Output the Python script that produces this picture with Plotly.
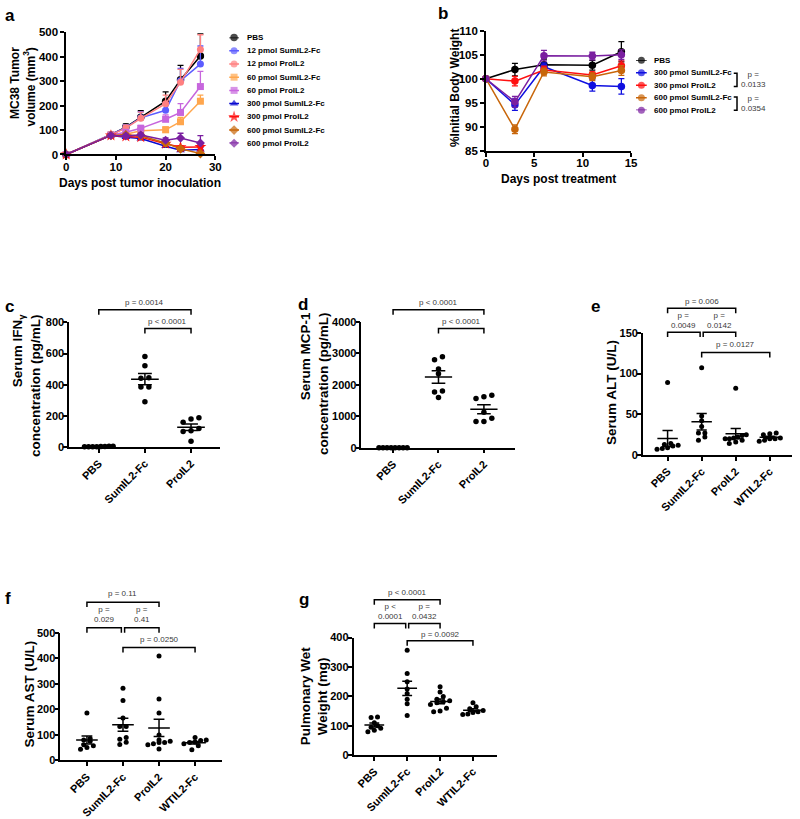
import numpy as np
import plotly.graph_objects as go

W, H = 800, 819
FONT = "Liberation Sans, Arial, sans-serif"


def fx(px):
    return px / W


def fy(py):
    return 1 - py / H


# ---------------- panel a: tumour growth ----------------
a_days = [0, 9, 12, 15, 20, 23, 27]
a_labels = ["PBS", "12 pmol SumIL2-Fc", "12 pmol ProIL2", "60 pmol SumIL2-Fc",
            "60 pmol ProIL2", "300 pmol SumIL2-Fc", "300 pmol ProIL2",
            "600 pmol SumIL2-Fc", "600 pmol ProIL2"]
a_pbs = [0, 81, 112, 152, 218, 306, 403]
a_pbs_sem = [0, 8, 13, 27, 38, 59, 91]
a_sum12 = [0, 82, 110, 150, 181, 302, 370]
a_sum12_sem = [0, 6, 12, 25, 30, 50, 74]
a_pro12 = [0, 80, 108, 148, 208, 296, 430]
a_pro12_sem = [0, 6, 12, 25, 35, 52, 60]
a_sum60 = [0, 80, 83, 97, 101, 134, 218]
a_sum60_sem = [0, 5, 8, 10, 12, 18, 25]
a_pro60 = [0, 80, 91, 107, 144, 172, 278]
a_pro60_sem = [0, 5, 8, 12, 18, 36, 62]
a_sum300 = [0, 78, 71, 65, 34, 17, 20]
a_sum300_sem = [0, 5, 6, 8, 8, 6, 8]
a_pro300 = [0, 78, 74, 71, 44, 30, 31]
a_pro300_sem = [0, 5, 8, 8, 8, 6, 10]
a_sum600 = [0, 78, 80, 77, 47, 23, 4]
a_sum600_sem = [0, 5, 6, 8, 10, 8, 3]
a_pro600 = [0, 78, 76, 80, 58, 67, 47]
a_pro600_sem = [0, 5, 6, 8, 10, 20, 30]

# ---------------- panel b: body weight ----------------
b_days = [0, 3, 6, 11, 14]
b_labels = ["PBS", "300 pmol SumIL2-Fc", "300 pmol ProIL2",
            "600 pmol SumIL2-Fc", "600 pmol ProIL2"]
b_pbs = [100, 101.9, 102.9, 102.8, 105.6]
b_pbs_sem = [0, 1.3, 1.2, 1.0, 2.1]
b_sum300 = [100, 94.6, 102.5, 98.6, 98.4]
b_sum300_sem = [0, 1.2, 0.8, 1.2, 1.6]
b_pro300 = [100, 99.5, 101.8, 100.8, 102.7]
b_pro300_sem = [0, 1.0, 0.8, 0.6, 1.0]
b_sum600 = [100, 89.5, 101.4, 100.4, 101.7]
b_sum600_sem = [0, 0.9, 0.8, 0.8, 1.0]
b_pro600 = [100, 95.2, 104.8, 104.7, 105.0]
b_pro600_sem = [0, 1.1, 1.1, 0.8, 1.0]
b_pvals = ["p =<br>0.0133", "p =<br>0.0354"]

# ---------------- panels c-g: dot plots ----------------
c_groups = ["PBS", "SumIL2-Fc", "ProIL2"]
c_pbs = [2, 3, 4, 5, 6, 3, 2, 4]
c_sum = [581, 522, 444, 442, 385, 385, 291]
c_pro = [189, 181, 160, 120, 105, 100, 38]
c_comparisons = [(0, 2, "p = 0.0014"), (1, 2, "p < 0.0001")]

d_groups = ["PBS", "SumIL2-Fc", "ProIL2"]
d_pbs = [0, 0, 0, 0, 0, 0, 0, 0]
d_sum = [2894, 2800, 2508, 2351, 1806, 1774, 1599]
d_pro = [1671, 1618, 1567, 1129, 940, 834, 834]
d_comparisons = [(0, 2, "p < 0.0001"), (1, 2, "p < 0.0001")]

e_groups = ["PBS", "SumIL2-Fc", "ProIL2", "WTIL2-Fc"]
e_pbs = [89, 14, 13, 12, 11, 9, 8, 7]
e_sum = [107, 48, 42, 35, 27, 27, 22, 18]
e_pro = [82, 25, 24, 22, 21, 20, 20, 18, 16, 14]
e_wt = [27, 26, 25, 21, 20, 20, 18, 17]
e_comparisons = [(0, 2, "p = 0.006"), (0, 1, "p =<br>0.0049"),
                 (1, 2, "p =<br>0.0142"), (1, 3, "p = 0.0127")]

f_groups = ["PBS", "SumIL2-Fc", "ProIL2", "WTIL2-Fc"]
f_pbs = [186, 86, 80, 75, 62, 58, 51, 44]
f_sum = [283, 235, 166, 133, 133, 90, 83, 71, 63]
f_pro = [409, 241, 186, 100, 80, 75, 70, 70, 65, 62, 45]
f_wt = [90, 80, 78, 72, 70, 65, 58, 42]
f_comparisons = [(0, 2, "p = 0.11"), (0, 1, "p =<br>0.029"),
                 (1, 2, "p =<br>0.41"), (1, 3, "p = 0.0250")]

g_groups = ["PBS", "SumIL2-Fc", "ProIL2", "WTIL2-Fc"]
g_pbs = [130, 128, 110, 100, 95, 92, 85, 80]
g_sum = [357, 278, 250, 225, 210, 190, 175, 135]
g_pro = [233, 215, 200, 190, 185, 182, 178, 172, 160, 150, 148]
g_wt = [178, 165, 158, 152, 148, 145, 140, 138]
g_comparisons = [(0, 2, "p < 0.0001"), (0, 1, "p <<br>0.0001"),
                 (1, 2, "p =<br>0.0432"), (1, 3, "p = 0.0092")]

# ---------------- styles ----------------
TICKFONT = dict(family=FONT, size=11.5, color="black", weight="bold")
TICKFONT_S = dict(family=FONT, size=11, color="black", weight="bold")
PFONT = dict(family=FONT, size=8, color="#3a3a3a")
LEGFONT = dict(family=FONT, size=8, color="black", weight="bold")

a_values = [a_pbs, a_sum12, a_pro12, a_sum60, a_pro60, a_sum300, a_pro300, a_sum600, a_pro600]
a_sems = [a_pbs_sem, a_sum12_sem, a_pro12_sem, a_sum60_sem, a_pro60_sem,
          a_sum300_sem, a_pro300_sem, a_sum600_sem, a_pro600_sem]
a_colors = ["#000000", "#5c5cff", "#ff8080", "#ffa64d", "#c766dd",
            "#0a0ad0", "#ff1010", "#c8660a", "#7a1fa0"]
a_symbols = ["circle", "circle", "circle", "square", "square",
             "triangle-up", "star", "diamond", "diamond"]
a_msize = [7.5, 7, 7, 7, 7, 7.5, 9, 7.5, 7]

b_values = [b_pbs, b_sum300, b_pro300, b_sum600, b_pro600]
b_sems = [b_pbs_sem, b_sum300_sem, b_pro300_sem, b_sum600_sem, b_pro600_sem]
b_colors = ["#000000", "#1010e0", "#ff1010", "#c8660a", "#7a1fa0"]

fig = go.Figure()
layout = dict(width=W, height=H, margin=dict(l=0, r=0, t=0, b=0),
              paper_bgcolor="white", plot_bgcolor="white", showlegend=False,
              font=dict(family=FONT, color="black"))
shapes = []
annotations = []


def axis(dom, rng, **kw):
    d = dict(domain=dom, range=rng, showline=True, linecolor="black", linewidth=1.5,
             ticks="outside", ticklen=4, tickwidth=1.5, tickcolor="black",
             showgrid=False, zeroline=False, tickfont=TICKFONT, fixedrange=True)
    d.update(kw)
    return d


def xdom(x0, x1):
    return [fx(x0), fx(x1)]


def ydom(ytop, ybot):
    return [fy(ybot), fy(ytop)]


def label(text, x, y, size=12, angle=0, align="center", xanchor="center", color="black", bold=True):
    annotations.append(dict(xref="paper", yref="paper", x=fx(x), y=fy(y), text=text,
                            showarrow=False, textangle=angle, align=align,
                            xanchor=xanchor, yanchor="middle",
                            font=dict(family=FONT, size=size, color=color,
                                      weight="bold" if bold else "normal")))


# ---------------- panel a ----------------
layout["xaxis"] = axis(xdom(64, 215), [0, 30], tickvals=[0, 10, 20, 30], anchor="y",
                       ticklabelstandoff=-3)
layout["yaxis"] = axis(ydom(26.7, 150.7), [0, 500], tickvals=[0, 100, 200, 300, 400, 500], anchor="x")
for vals, sem, col, sym, ms in zip(a_values, a_sems, a_colors, a_symbols, a_msize):
    fig.add_trace(go.Scatter(x=a_days, y=vals, mode="lines+markers", xaxis="x", yaxis="y",
                             line=dict(color=col, width=1.5),
                             marker=dict(color=col, symbol=sym, size=ms, line=dict(width=0)),
                             error_y=dict(type="data", array=sem, arrayminus=[0] * len(sem),
                                          symmetric=False, color=col, thickness=1.3, width=3),
                             cliponaxis=False))

# legend a (own hidden axis, one row per series)
layout["xaxis8"] = dict(domain=xdom(229, 239), range=[0, 1], visible=False, anchor="y8", fixedrange=True)
layout["yaxis8"] = dict(domain=ydom(32, 139.3), range=[len(a_labels) - 1, 0], visible=False,
                        anchor="x8", fixedrange=True)
for i, (name, col, sym, ms) in enumerate(zip(a_labels, a_colors, a_symbols, a_msize)):
    fig.add_trace(go.Scatter(x=[0, 0.5, 1], y=[i, i, i], mode="lines+markers", xaxis="x8", yaxis="y8",
                             line=dict(color=col, width=1.5),
                             marker=dict(color=col, symbol=sym, size=[0, ms, 0], line=dict(width=0)),
                             cliponaxis=False))
    annotations.append(dict(xref="paper", yref="y8", x=fx(245.5), y=i, text=name, showarrow=False,
                            xanchor="left", yanchor="middle", font=LEGFONT))

label("MC38 Tumor<br>volume (mm<sup>3</sup>)", 20, 82, size=12, angle=-90, align="right")
label("Days post tumor inoculation", 139, 180, size=12)

# ---------------- panel b ----------------
layout["xaxis2"] = axis(xdom(489, 636), [0, 15], tickvals=[0, 5, 10, 15], anchor="y2",
                        ticklabelstandoff=-3)
layout["yaxis2"] = axis(ydom(25, 147), [85, 110], tickvals=[85, 90, 95, 100, 105, 110], anchor="x2")
for vals, sem, col in zip(b_values, b_sems, b_colors):
    fig.add_trace(go.Scatter(x=b_days, y=vals, mode="lines+markers", xaxis="x2", yaxis="y2",
                             line=dict(color=col, width=1.5),
                             marker=dict(color=col, symbol="circle", size=7.5, line=dict(width=0)),
                             error_y=dict(type="data", array=sem, color=col, thickness=1.3, width=3),
                             cliponaxis=False))

layout["xaxis9"] = dict(domain=xdom(641, 652), range=[0, 1], visible=False, anchor="y9", fixedrange=True)
layout["yaxis9"] = dict(domain=ydom(55, 105.7), range=[len(b_labels) - 1, 0], visible=False,
                        anchor="x9", fixedrange=True)
for i, (name, col) in enumerate(zip(b_labels, b_colors)):
    fig.add_trace(go.Scatter(x=[0, 0.5, 1], y=[i, i, i], mode="lines+markers", xaxis="x9", yaxis="y9",
                             line=dict(color=col, width=1.5),
                             marker=dict(color=col, symbol="circle", size=[0, 7, 0], line=dict(width=0)),
                             cliponaxis=False))
    annotations.append(dict(xref="paper", yref="y9", x=fx(657), y=i, text=name, showarrow=False,
                            xanchor="left", yanchor="middle", font=LEGFONT))

for (top, bot), ptxt in zip([(68.3, 81.7), (92.3, 105.7)], b_pvals):
    shapes.append(dict(type="path", xref="paper", yref="paper",
                       path=f"M {fx(740)},{fy(top)} L {fx(743.3)},{fy(top)} L {fx(743.3)},{fy(bot)} L {fx(740)},{fy(bot)}",
                       line=dict(color="black", width=1.5)))
    annotations.append(dict(xref="paper", yref="paper", x=fx(760), y=fy((top + bot) / 2), text=ptxt,
                            showarrow=False, xanchor="center", yanchor="middle", font=PFONT))

label("%Initial Body Weight", 457, 83, size=12, angle=-90)
label("Days post treatment", 563, 176, size=12)


# ---------------- dot plots ----------------
def swarm(values, ypx_per_unit, cat_px, gap, max_half, row_tol):
    v = np.asarray(values, float)
    order = np.argsort(v, kind="stable")
    rows, cur = [], []
    for i in order:
        if cur and (v[i] - v[cur[0]]) * ypx_per_unit > row_tol:
            rows.append(cur)
            cur = []
        cur.append(i)
    if cur:
        rows.append(cur)
    offs = np.zeros(len(v))
    for row in rows:
        k = len(row)
        if k == 1:
            continue
        g = min(gap, 2 * max_half / (k - 1))
        for j, i in enumerate(row):
            offs[i] = (j - (k - 1) / 2) * g
    return offs / cat_px


dot_panels = [
    dict(k=3, groups=c_groups, data=[c_pbs, c_sum, c_pro], comps=c_comparisons,
         xd=(67, 220), cat0=97, step=46.7, yd=(321, 447.7), yr=[0, 800], dt=200,
         dot=5.5, gap=8.0, levels=[(308.3, 300.7), (327.3, 320)]),
    dict(k=4, groups=d_groups, data=[d_pbs, d_sum, d_pro], comps=d_comparisons,
         xd=(363, 518), cat0=395, step=46, yd=(320.7, 448.3), yr=[0, 4000], dt=1000,
         dot=5.5, gap=8.0, levels=[(308.3, 300.7), (327.3, 320)]),
    dict(k=5, groups=e_groups, data=[e_pbs, e_sum, e_pro, e_wt], comps=e_comparisons,
         xd=(648, 799), cat0=673, step=34.5, yd=(331.7, 455.7), yr=[0, 150], dt=50,
         dot=5, gap=6.5, levels=[(306.7, 300), (331, 319.5), (331, 319.5), (351.7, 344)]),
    dict(k=6, groups=f_groups, data=[f_pbs, f_sum, f_pro, f_wt], comps=f_comparisons,
         xd=(58, 222), cat0=85, step=36.5, yd=(636, 765.7), yr=[0, 500], dt=100,
         dot=5, gap=6.5, levels=[(605, 596), (631, 617.5), (631, 617.5), (651, 643)]),
    dict(k=7, groups=g_groups, data=[g_pbs, g_sum, g_pro, g_wt], comps=g_comparisons,
         xd=(355, 500), cat0=376, step=33.3, yd=(641, 760.3), yr=[0, 400], dt=100,
         dot=5, gap=6.5, levels=[(602.7, 595), (626.7, 615), (626.7, 615), (644.3, 637.7)]),
]

for p in dot_panels:
    k = p["k"]
    xr = [(p["xd"][0] - p["cat0"]) / p["step"], (p["xd"][1] - p["cat0"]) / p["step"]]
    n = len(p["groups"])
    layout[f"xaxis{k}"] = axis(xdom(*p["xd"]), xr, tickvals=list(range(n)), ticktext=p["groups"],
                               tickangle=-45, tickfont=TICKFONT_S, anchor=f"y{k}")
    layout[f"yaxis{k}"] = axis(ydom(*p["yd"]), p["yr"], dtick=p["dt"], tick0=0,
                               tickfont=TICKFONT_S, anchor=f"x{k}", ticklabelstandoff=-3)
    ypx = (p["yd"][1] - p["yd"][0]) / (p["yr"][1] - p["yr"][0])
    xs, ys = [], []
    mx, my = [], []
    for gi, vals in enumerate(p["data"]):
        off = swarm(vals, ypx, p["step"], p["gap"], 0.31 * p["step"], p["dot"] * 0.85)
        xs += list(gi + off)
        ys += list(vals)
        arr = np.asarray(vals, float)
        m = arr.mean()
        s = arr.std(ddof=1) / np.sqrt(len(arr))
        mx += [gi - 0.3, gi + 0.3, None, gi, gi, None,
               gi - 0.15, gi + 0.15, None, gi - 0.15, gi + 0.15, None]
        my += [m, m, None, m - s, m + s, None, m - s, m - s, None, m + s, m + s, None]
    fig.add_trace(go.Scatter(x=mx, y=my, mode="lines", xaxis=f"x{k}", yaxis=f"y{k}",
                             line=dict(color="black", width=1.5), connectgaps=False))
    fig.add_trace(go.Scatter(x=xs, y=ys, mode="markers", xaxis=f"x{k}", yaxis=f"y{k}",
                             marker=dict(color="black", size=p["dot"], line=dict(width=0)),
                             cliponaxis=False))
    # comparison brackets
    for (g0, g1, txt), (yl, yt) in zip(p["comps"], p["levels"]):
        x0, x1 = float(g0), float(g1)
        if n == 4 and g0 == 0 and g1 == 1:
            x1 -= 0.045
        if n == 4 and g0 == 1 and g1 == 2:
            x0 += 0.045
        leg = 5
        shapes.append(dict(type="path", xref=f"x{k}", yref="paper",
                           path=f"M {x0},{fy(yl + leg)} L {x0},{fy(yl)} L {x1},{fy(yl)} L {x1},{fy(yl + leg)}",
                           line=dict(color="black", width=1.5)))
        annotations.append(dict(xref=f"x{k}", yref="paper", x=(x0 + x1) / 2, y=fy(yt), text=txt,
                                showarrow=False, xanchor="center", yanchor="middle", font=PFONT))

# axis titles of dot plots
label("Serum IFN<sub>γ</sub><br>concentration (pg/mL)", 24, 385, size=13.5, angle=-90, align="right")
label("Serum MCP-1<br>concentration (pg/mL)", 315.5, 383, size=13.5, angle=-90, align="right")
label("Serum ALT (U/L)", 616, 392.5, size=13.5, angle=-90)
label("Serum AST (U/L)", 27, 698, size=13.5, angle=-90)
label("Pulmonary Wet<br>Weight (mg)", 315.5, 700, size=13.5, angle=-90)

# panel letters
for t, x, y in [("a", 0, 10), ("b", 438, 8), ("c", 0, 305), ("d", 297, 303),
                ("e", 593, 305), ("f", 0, 601), ("g", 298, 602)]:
    label(t, x, y, size=17, xanchor="left")

layout["shapes"] = shapes
layout["annotations"] = annotations
fig.update_layout(**layout)
fig.write_html("out.html", config={"displayModeBar": False},
               post_script="document.body.style.margin='0';document.body.style.padding='0';"
                           "document.documentElement.style.overflow='hidden';")
